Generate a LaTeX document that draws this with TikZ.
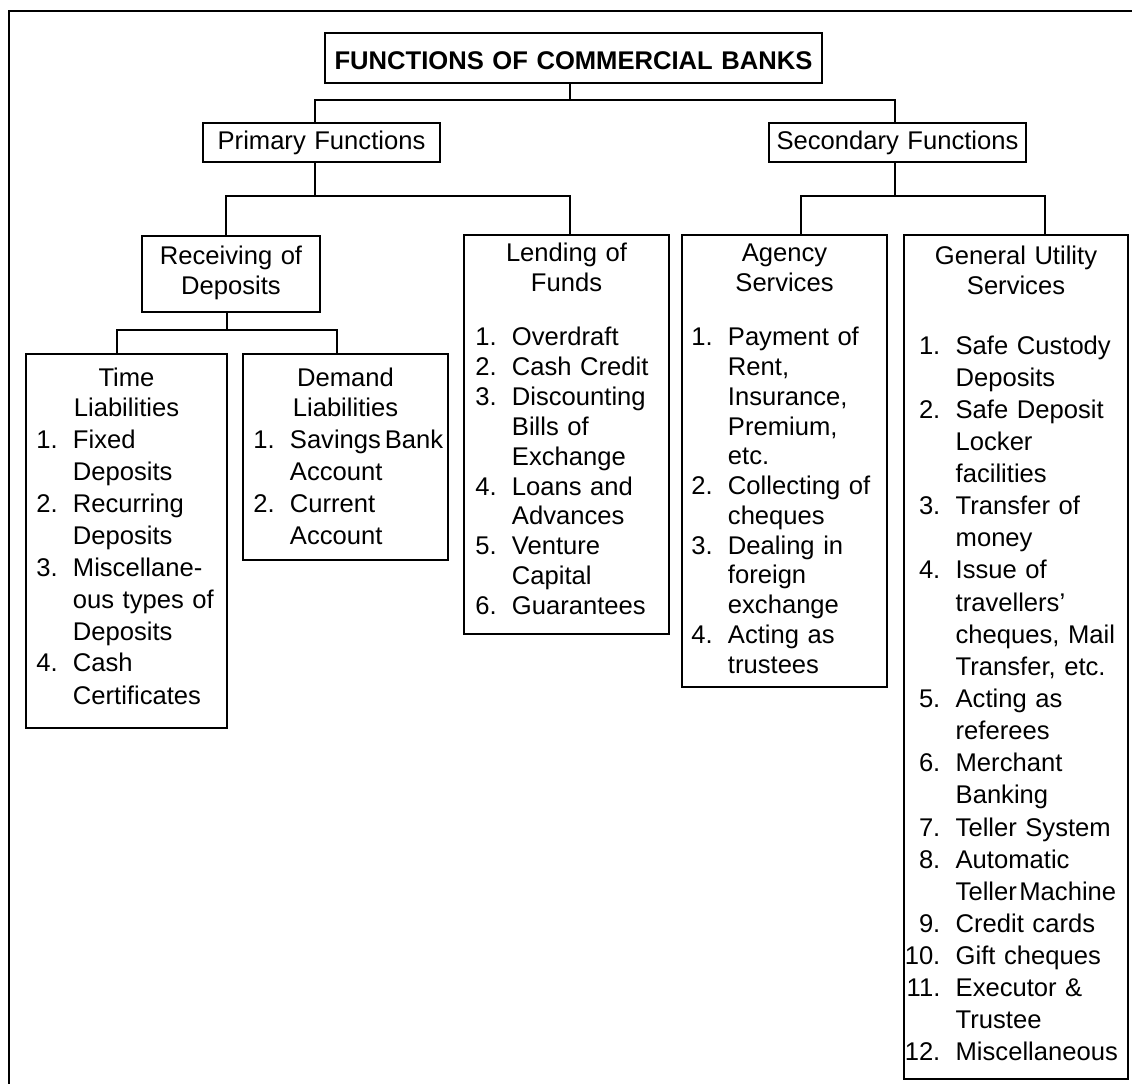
\documentclass[tikz,border=0pt]{standalone}
\usepackage{fontspec}
\setmainfont{Liberation Sans}
\newlength\numw
\newcommand{\nm}[1]{\makebox[\numw][r]{#1}\hspace{11.5pt}}
\newcommand{\ct}{\hspace*{\numw}\hspace*{11.5pt}}
\newcommand{\mkbox}[6][]{\node[bx,#1, minimum width={(#4-#2)*0.75pt}, minimum height={(#5-#3)*0.75pt}] (#6) at ({(#2+#4)/2},{(#3+#5)/2}) {};}
\tikzset{
  bx/.style={draw, rectangle, line width=0.8pt, inner sep=0pt, outer sep=0pt},
  ln/.style={line width=0.8pt},
  hd/.style={inner sep=0pt, align=center, anchor=base, text width=#1,
    font=\fontsize{19.2}{22.1}\selectfont},
  ls/.style={inner sep=0pt, align=left, anchor=base west, text width=220pt,
    font=\fontsize{19.2}{#1}\selectfont},
}
\begin{document}
\begin{tikzpicture}[x=0.75pt,y=-0.75pt]
\useasboundingbox (0,0) rectangle (1132,1084);
% frame
\draw[line width=1.6pt] (9,1084) -- (9,11);
\draw[line width=1pt] (8.2,11) -- (1132,11);
% boxes
\mkbox[line width=1.1pt]{325}{33}{822}{83}{title}
\mkbox{203}{123}{440}{162}{primary}
\mkbox{769}{123}{1026}{162}{secondary}
\mkbox{142}{236}{320}{312}{receiving}
\mkbox{464}{235}{669}{634}{lending}
\mkbox{682}{235}{887}{687}{agency}
\mkbox{904}{235}{1128}{1079}{general}
\mkbox{26}{354}{227}{728}{time}
\mkbox{243}{354}{448}{560}{demand}
% headers
\node[hd=372pt] (titleT) at (573.5,70) {\mbox{\bfseries FUNCTIONS OF COMMERCIAL BANKS}};
\node[hd=170pt] (primaryT) at (321.5,150) {Primary Functions};
\node[hd=190pt] (secondaryT) at (897.5,150) {Secondary Functions};
\node[hd=130pt] (receivingT) at (231,265) {Receiving of\\Deposits};
\node[hd=150pt] (lendingT) at (566.5,262) {Lending of\\Funds};
\node[hd=150pt] (agencyT) at (784.5,262) {Agency\\Services};
\node[hd=165pt] (generalT) at (1016,265) {General Utility\\Services};
\node[hd=150pt] (timeT) at (126.5,387) {Time\\Liabilities};
\node[hd=150pt] (demandT) at (345.5,387) {Demand\\Liabilities};
% lists
\node[ls=24pt] (timeL) at (36,448) {\settowidth{\numw}{1.}%
\nm{1.}Fixed\\ \ct Deposits\\ \nm{2.}Recurring\\ \ct Deposits\\
\nm{3.}Miscellane-\\ \ct ous types of\\ \ct Deposits\\ \nm{4.}Cash\\ \ct Certificates};
\node[ls=24.2pt] (demandL) at (253,448) {\settowidth{\numw}{1.}%
\nm{1.}Savings\hspace{0.15em}Bank\\ \ct Account\\ \nm{2.}Current\\ \ct Account};
\node[ls=22.35pt] (lendingL) at (475,346) {\settowidth{\numw}{1.}%
\nm{1.}Overdraft\\ \nm{2.}Cash Credit\\ \nm{3.}Discounting\\ \ct Bills of\\ \ct Exchange\\
\nm{4.}Loans and\\ \ct Advances\\ \nm{5.}Venture\\ \ct Capital\\ \nm{6.}Guarantees};
\node[ls=22.3pt] (agencyL) at (691,346) {\settowidth{\numw}{1.}%
\nm{1.}Payment of\\ \ct Rent,\\ \ct Insurance,\\ \ct Premium,\\ \ct etc.\\
\nm{2.}Collecting of\\ \ct cheques\\ \nm{3.}Dealing in\\ \ct foreign\\ \ct exchange\\
\nm{4.}Acting as\\ \ct trustees};
\node[ls=24.1pt] (generalL) at (904.5,354) {\settowidth{\numw}{10.}%
\nm{1.}Safe Custody\\ \ct Deposits\\ \nm{2.}Safe Deposit\\ \ct Locker\\ \ct facilities\\
\nm{3.}Transfer of\\ \ct money\\ \nm{4.}Issue of\\ \ct travellers’\\ \ct cheques, Mail\\ \ct Transfer, etc.\\
\nm{5.}Acting as\\ \ct referees\\ \nm{6.}Merchant\\ \ct Banking\\ \nm{7.}Teller System\\
\nm{8.}Automatic\\ \ct Teller\hspace{0.1em}Machine\\ \nm{9.}Credit cards\\ \nm{10.}Gift cheques\\
\nm{11.}Executor \&\\ \ct Trustee\\ \nm{12.}Miscellaneous};
% junctions
\coordinate (j0) at (570,100);
\coordinate (jL) at (315,100);
\coordinate (jR) at (895,100);
\coordinate (pJ) at (315,196);
\coordinate (pL) at (226,196);
\coordinate (pR) at (570,196);
\coordinate (sJ) at (895,196);
\coordinate (sL) at (801,196);
\coordinate (sR) at (1045,196);
\coordinate (rJ) at (227,330);
\coordinate (rL) at (117,330);
\coordinate (rR) at (337,330);
% connectors
\draw[ln] (title.south -| j0) -- (j0);
\draw[ln] (primary.north -| jL) -- (jL) -- (jR) -- (secondary.north -| jR);
\draw[ln] (primary.south -| pJ) -- (pJ);
\draw[ln] (receiving.north -| pL) -- (pL) -- (pR) -- (lending.north -| pR);
\draw[ln] (secondary.south -| sJ) -- (sJ);
\draw[ln] (agency.north -| sL) -- (sL) -- (sR) -- (general.north -| sR);
\draw[ln] (receiving.south -| rJ) -- (rJ);
\draw[ln] (time.north -| rL) -- (rL) -- (rR) -- (demand.north -| rR);
\end{tikzpicture}
\end{document}
